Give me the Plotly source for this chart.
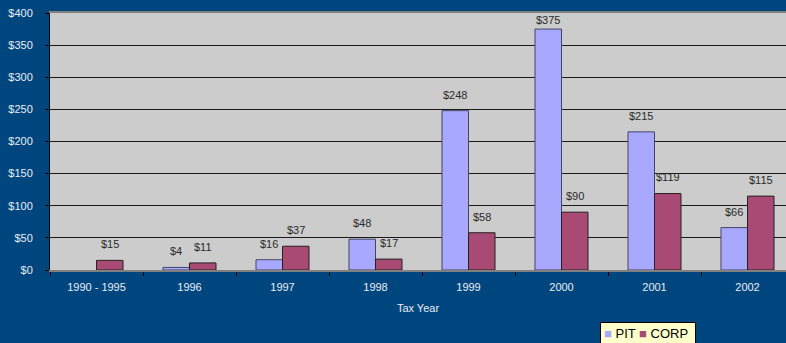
import plotly.graph_objects as go

categories = ["1990 - 1995", "1996", "1997", "1998", "1999", "2000", "2001", "2002"]
pit = [None, 4, 16, 48, 248, 375, 215, 66]
corp = [15, 11, 37, 17, 58, 90, 119, 115]
y_ticks = [0, 50, 100, 150, 200, 250, 300, 350, 400]
y_tick_labels = ["$" + str(v) for v in y_ticks]
series_names = ["PIT", "CORP"]

BG = "#00467E"
PIT_C = "#A8A8FF"
CORP_C = "#A84A74"
FONT = "Liberation Sans, Arial, sans-serif"

BARGAP = 0.43

fig = go.Figure()
fig.add_trace(go.Bar(name=series_names[0], x=categories, y=pit, showlegend=False,
                     marker=dict(color=PIT_C, line=dict(color="#444466", width=1))))
fig.add_trace(go.Bar(name=series_names[1], x=categories, y=corp, showlegend=False,
                     marker=dict(color=CORP_C, line=dict(color="#222222", width=1))))

# data labels
half = (1 - BARGAP) / 4
YMAX = y_ticks[-1]
for i, (p, c) in enumerate(zip(pit, corp)):
    for v, off in ((p, -half), (c, half)):
        if v is None:
            continue
        fig.add_annotation(x=i + off, y=min(v + 25, YMAX - 11), text="$" + str(v), showarrow=False,
                           xref="x", yref="y", font=dict(family=FONT, size=11, color="#2A2A2A"),
                           yanchor="middle")

# compact legend box
legend_text = (
    f"<span style='color:{PIT_C}'>■</span> {series_names[0]} "
    f"<span style='color:{CORP_C}'>■</span> {series_names[1]} "
)
fig.add_annotation(
    x=(600 - 50) / 736, xref="paper", xanchor="left",
    y=(270 - 322) / 257, yref="paper", yanchor="top",
    text=legend_text, showarrow=False, align="left",
    bgcolor="#FFFFCC", bordercolor="#000000", borderwidth=1, borderpad=3,
    font=dict(family=FONT, size=13, color="#000000"),
)

fig.update_layout(
    width=786, height=343,
    margin=dict(l=50, r=0, t=13, b=73, autoexpand=False),
    paper_bgcolor=BG, plot_bgcolor="#CCCCCC",
    barmode="group", bargap=BARGAP, bargroupgap=0,
    font=dict(family=FONT, size=11, color="#E8EEF5"),
    showlegend=False,
)
fig.update_xaxes(
    range=[-0.5, 7.414], type="category",
    tickson="boundaries", ticks="outside", ticklen=4, tickcolor="#000000",
    showline=True, linecolor="#808080", linewidth=2, mirror=True,
    showgrid=False, tickfont=dict(size=11, color="#E8EEF5"), ticklabelstandoff=6,
    title=dict(text="Tax Year", font=dict(size=11, color="#E8EEF5"), standoff=12),
    automargin=False,
)
fig.update_yaxes(
    range=[0, 400], tickvals=y_ticks, ticktext=y_tick_labels,
    ticks="outside", ticklen=4, tickcolor="#000000",
    showline=True, linecolor="#000000", linewidth=1,
    showgrid=True, gridcolor="#1A1A1A", gridwidth=1, zeroline=False,
    tickfont=dict(size=11, color="#E8EEF5"), ticklabelstandoff=10,
    automargin=False,
)

fig.write_html("out.html")
